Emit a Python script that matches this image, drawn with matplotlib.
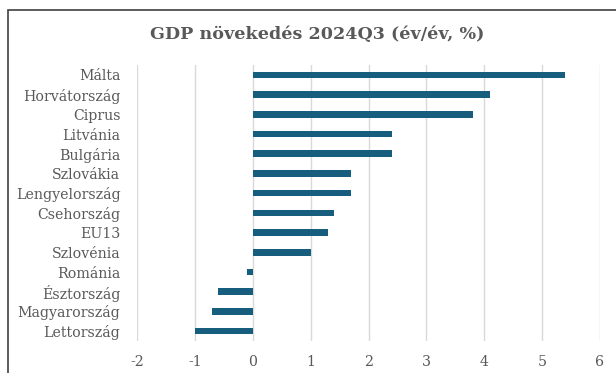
import matplotlib
matplotlib.use("Agg")
import matplotlib.pyplot as plt
from matplotlib.patches import Rectangle

countries = ["Málta", "Horvátország", "Ciprus", "Litvánia", "Bulgária", "Szlovákia",
             "Lengyelország", "Csehország", "EU13", "Szlovénia", "Románia",
             "Észtország", "Magyarország", "Lettország"]
values = [5.4, 4.1, 3.8, 2.4, 2.4, 1.7, 1.7, 1.4, 1.3, 1.0, -0.1, -0.6, -0.7, -1.0]
xticks = [-2, -1, 0, 1, 2, 3, 4, 5, 6]
title = "GDP növekedés 2024Q3 (év/év, %)"

W, H = 616, 373
fig = plt.figure(figsize=(W/100, H/100), dpi=100)
fig.patch.set_facecolor("white")

# chart frame (only top and left edges visible)
fig.patches.append(Rectangle((7.5/W, -0.2), 1.2, (H-10)/H + 0.2, transform=fig.transFigure,
                             fill=False, edgecolor="#404040", linewidth=1.2))

ax = fig.add_axes([137/W, 1-341/H, (600-137)/W, (341-65)/H])
ypos = list(range(len(countries)))
ax.barh(ypos, values, height=0.34, color="#175E7E", zorder=3)
ax.set_ylim(len(countries)-0.5, -0.5)
ax.set_xlim(-2, 6)
ax.set_xticks(xticks)
ax.set_xticklabels([str(t) for t in xticks])
ax.set_yticks(ypos)
ax.set_yticklabels(countries)
for s in ax.spines.values():
    s.set_visible(False)
ax.grid(axis="x", color="#D9D9D9", linewidth=1.0, zorder=0)
ax.tick_params(axis="both", length=0, colors="#595959", labelsize=10.2)
ax.tick_params(axis="x", pad=10)
ax.tick_params(axis="y", pad=12)
for lab in ax.get_xticklabels() + ax.get_yticklabels():
    lab.set_fontfamily("DejaVu Serif")
    lab.set_color("#595959")

fig.text(317/W, 1-35/H, title, ha="center", va="center", fontsize=12.6,
         fontweight="bold", color="#595959", fontfamily="DejaVu Serif")

fig.savefig("out.png", dpi=100)
